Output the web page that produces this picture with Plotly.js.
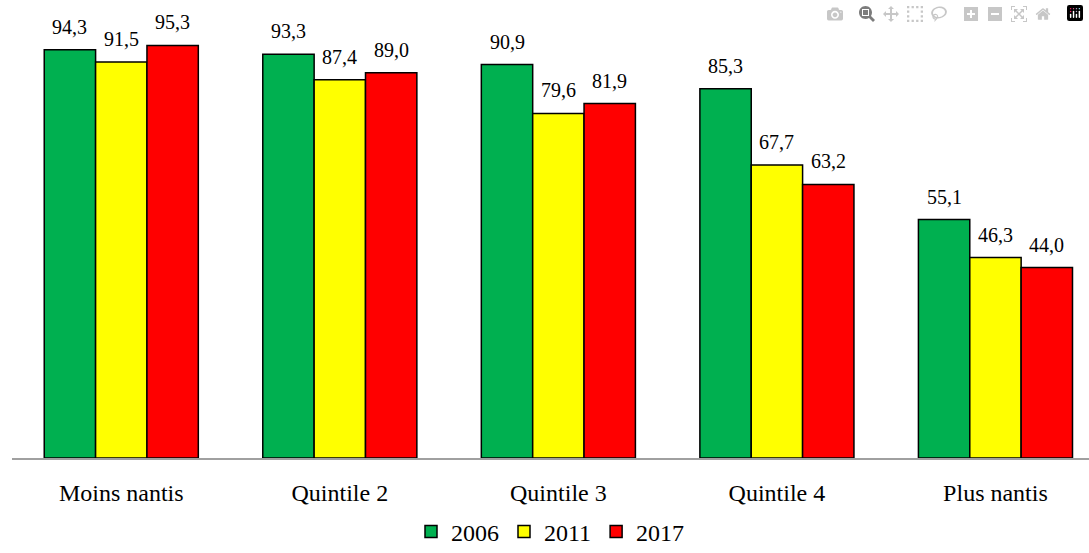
<!DOCTYPE html>
<html>
<head>
<meta charset="utf-8">
<script src="https://cdn.plot.ly/plotly-3.0.1.min.js"></script>
</head>
<body style="margin:0">
<div id="chart"></div>
<script>
var categories = ["Moins nantis", "Quintile 2", "Quintile 3", "Quintile 4", "Plus nantis"];
var seriesNames = ["2006", "2011", "2017"];
var values2006 = [94.3, 93.3, 90.9, 85.3, 55.1];
var values2011 = [91.5, 87.4, 79.6, 67.7, 46.3];
var values2017 = [95.3, 89.0, 81.9, 63.2, 44.0];
var colors = ["#00b050", "#ffff00", "#ff0000"];

var allValues = [values2006, values2011, values2017];
var fontFam = "Liberation Serif";
var groupGap = 0.295;

var traces = allValues.map(function (vals, i) {
  return {
    type: "bar",
    name: seriesNames[i],
    x: categories.map(function (c, k) { return k; }),
    y: vals,
    marker: { color: colors[i], line: { color: "#000", width: 1.5 } }
  };
});

var annotations = [];
var slotW = (1 - groupGap) / allValues.length;
allValues.forEach(function (vals, i) {
  vals.forEach(function (v, k) {
    annotations.push({
      x: k - (1 - groupGap) / 2 + slotW * (i + 0.5),
      y: v,
      xref: "x", yref: "y",
      text: v.toFixed(1).replace(".", ","),
      showarrow: false,
      yanchor: "bottom",
      yshift: 10,
      font: { family: fontFam, size: 20, color: "#000" }
    });
  });
});

var layout = {
  width: 1089,
  height: 553,
  margin: { l: 12, r: 0, t: 10, b: 95, autoexpand: false },
  barmode: "group",
  bargap: groupGap,
  bargroupgap: 0,
  showlegend: true,
  font: { family: fontFam, size: 24, color: "#000" },
  annotations: annotations,
  legend: {
    orientation: "h",
    x: 0.5, xanchor: "center",
    y: -0.165, yanchor: "middle",
    font: { family: fontFam, size: 24, color: "#000" },
    itemwidth: 30
  },
  xaxis: {
    range: [-0.5, 4.428],
    tickmode: "array",
    tickvals: categories.map(function (c, k) { return k; }),
    ticktext: categories,
    showline: true,
    linecolor: "#a0a0a0",
    linewidth: 2,
    ticks: "",
    ticklabelstandoff: 12,
    tickfont: { family: fontFam, size: 24, color: "#000" },
    showgrid: false,
    zeroline: false,
    automargin: false
  },
  yaxis: {
    range: [0, 103.5],
    visible: false,
    showgrid: false,
    zeroline: false
  }
};

Plotly.newPlot("chart", traces, layout);
</script>
</body>
</html>
